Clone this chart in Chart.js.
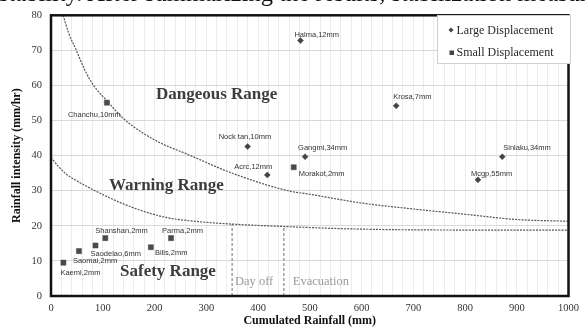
<!DOCTYPE html>
<html>
<head>
<meta charset="utf-8">
<script src="https://cdn.jsdelivr.net/npm/chart.js@4.4.0/dist/chart.umd.min.js"></script>
<style>
  html, body { margin: 0; padding: 0; background: #fff; overflow: hidden; }
  #wrap { position: relative; width: 585px; height: 327px; overflow: hidden; }
  #caption { position: absolute; left: -1px; top: -19px; font: 24.5px/24px "Liberation Serif", serif; color: #111; white-space: nowrap; }
  canvas { position: absolute; left: 0; top: 0; }
</style>
</head>
<body>
<div id="wrap">
  <canvas id="c" width="585" height="327"></canvas>
  <div id="caption">stability. After summarizing the results, stabilization measures</div>
</div>
<script>
// Typhoon events with large slope displacement: cumulated rainfall (mm), intensity (mm/hr)
const largeNames = ['Halma,12mm', 'Krosa,7mm', 'Gangmi,34mm', 'Sinlaku,34mm', 'Nock tan,10mm', 'Acrc,12mm', 'Mcgp,55mm'];
const largeRain = [482, 667, 491, 872, 380, 418, 825];
const largeIntensity = [72.8, 54.2, 39.7, 39.7, 42.6, 34.5, 33.1];

// Typhoon events with small slope displacement
const smallNames = ['Chanchu,10mm', 'Morakot,2mm', 'Shanshan,2mm', 'Parma,2mm', 'Saodelao,6mm', 'Saomai,2mm', 'Bilis,2mm', 'Kaemi,2mm'];
const smallRain = [108, 469, 105, 232, 86, 54, 193, 24];
const smallIntensity = [55.1, 36.7, 16.5, 16.5, 14.4, 12.8, 13.9, 9.5];

// Boundary between warning and dangerous range
const dangerRain = [23.5, 34, 49, 65, 80, 110, 142, 200, 270, 350, 458, 500, 600, 700, 800, 900, 1000];
const dangerIntensity = [80, 75, 70, 64.5, 60.5, 55.3, 50.3, 44.5, 40, 35, 30, 29, 26.5, 24.8, 23.3, 21.8, 21.3];

// Boundary between safety and warning range
const warningRain = [0, 17, 30, 56, 113, 158, 222, 285, 349, 451, 586, 800, 1000];
const warningIntensity = [39.5, 36.5, 34.7, 32.3, 28, 25.2, 22.4, 21.2, 20.5, 19.8, 19.1, 18.8, 18.8];

// Action thresholds on cumulated rainfall and where they meet the warning boundary
const phaseNames = ['Day off', 'Evacuation'];
const phaseRain = [350, 450];
const phaseTop = [20.5, 19.8];

// Tick values
const xTicks = [0, 100, 200, 300, 400, 500, 600, 700, 800, 900, 1000];
const yTicks = [0, 10, 20, 30, 40, 50, 60, 70, 80];

// Region captions (data coordinates)
const rangeNames = ['Dangeous Range', 'Warning Range', 'Safety Range'];
const rangeRain = [320, 223, 226];
const rangeIntensity = [57.3, 31.5, 6.9];

// Label placement around each marker: [dx to text start, dy to text middle] in px
const largeLabelShift = [[-6, -6], [-3, -9], [-7, -9], [1, -9], [-29, -10], [-33, -8], [-7, -6]];
const smallLabelShift = [[-39, 12], [5, 7], [-10, -7], [-9, -7], [-5, 8], [-6, 10], [4, 6], [-3, 10]];

const toPts = (xs, ys) => xs.map((x, i) => ({ x: x, y: ys[i] }));
const SERIF = '"Liberation Serif", "Times New Roman", serif';
const SANS = '"Liberation Sans", Arial, sans-serif';

const curveStyle = {
  showLine: true, pointRadius: 0, borderColor: '#555', borderWidth: 1.2,
  borderDash: [2, 1.2], cubicInterpolationMode: 'monotone', fill: false
};

const datasets = [
  Object.assign({ label: 'danger', data: toPts(dangerRain, dangerIntensity) }, curveStyle),
  Object.assign({ label: 'warning', data: toPts(warningRain, warningIntensity) }, curveStyle),
];
phaseRain.forEach((r, i) => {
  datasets.push({
    label: phaseNames[i], data: [{ x: r, y: 0 }, { x: r, y: phaseTop[i] }],
    showLine: true, pointRadius: 0, borderColor: '#888', borderWidth: 1.2, borderDash: [3, 2]
  });
});
datasets.push({
  label: 'Large Displacement', data: toPts(largeRain, largeIntensity),
  pointStyle: 'rectRot', pointRadius: 3, backgroundColor: '#444', borderColor: '#444', borderWidth: 0.5
});
datasets.push({
  label: 'Small Displacement', data: toPts(smallRain, smallIntensity),
  pointStyle: 'rect', pointRadius: 3.6, backgroundColor: '#4a4a4a', borderColor: '#4a4a4a', borderWidth: 0.5
});

const decorations = {
  id: 'decorations',
  afterDatasetsDraw(chart) {
    const { ctx, chartArea: a, scales: { x, y } } = chart;
    ctx.save();

    // region captions
    ctx.textAlign = 'center';
    ctx.textBaseline = 'middle';
    ctx.fillStyle = '#3d3d3d';
    ctx.font = 'bold 17px ' + SERIF;
    rangeNames.forEach((t, i) => ctx.fillText(t, x.getPixelForValue(rangeRain[i]), y.getPixelForValue(rangeIntensity[i])));

    ctx.fillStyle = '#9a9a9a';
    ctx.font = '12.5px ' + SERIF;
    phaseNames.forEach((t, i) => {
      const cx = x.getPixelForValue(phaseRain[i]) + (i === 0 ? 22 : 37);
      ctx.fillText(t, cx, y.getPixelForValue(4));
    });

    // marker labels
    ctx.fillStyle = '#333';
    ctx.font = '7.5px ' + SANS;
    ctx.textAlign = 'left';
    const lab = (names, xs, ys, sh) => names.forEach((n, i) => {
      ctx.fillText(n, x.getPixelForValue(xs[i]) + sh[i][0], y.getPixelForValue(ys[i]) + sh[i][1]);
    });
    lab(largeNames, largeRain, largeIntensity, largeLabelShift);
    lab(smallNames, smallRain, smallIntensity, smallLabelShift);

    // plot frame
    ctx.strokeStyle = '#111';
    ctx.lineWidth = 2.5;
    ctx.strokeRect(a.left, a.top, a.right - a.left, a.bottom - a.top);

    // legend
    const lx = 437, ly = 15, lw = 133, lh = 48;
    ctx.fillStyle = '#fff';
    ctx.fillRect(lx, ly, lw, lh);
    ctx.strokeStyle = '#cfcfcf';
    ctx.lineWidth = 1;
    ctx.strokeRect(lx + 0.5, ly + 0.5, lw, lh);
    ctx.fillStyle = '#444';
    ctx.beginPath();
    ctx.moveTo(451, 27.5); ctx.lineTo(453.5, 30); ctx.lineTo(451, 32.5); ctx.lineTo(448.5, 30); ctx.closePath();
    ctx.fill();
    ctx.fillRect(449.5, 50.5, 4.5, 4.5);
    ctx.fillStyle = '#2a2a2a';
    ctx.font = '12px ' + SERIF;
    ctx.textBaseline = 'middle';
    ctx.fillText('Large Displacement', 456.5, 30.5);
    ctx.fillText('Small Displacement', 456.5, 53);

    // axis titles
    ctx.fillStyle = '#111';
    ctx.font = 'bold 12px ' + SERIF;
    ctx.textAlign = 'center';
    ctx.fillText('Cumulated Rainfall (mm)', (a.left + a.right) / 2, 321);
    ctx.translate(17, (a.top + a.bottom) / 2);
    ctx.rotate(-Math.PI / 2);
    ctx.fillText('Rainfall intensity (mm/hr)', 0, 0);
    ctx.restore();
  }
};

new Chart(document.getElementById('c'), {
  type: 'scatter',
  data: { datasets: datasets },
  options: {
    responsive: false,
    animation: false,
    layout: { padding: { top: 13, right: 11, left: 0, bottom: 0 } },
    plugins: { legend: { display: false }, tooltip: { enabled: false } },
    scales: {
      x: {
        type: 'linear', min: 0, max: 1000,
        border: { display: false },
        grid: { color: '#ececec', lineWidth: 1, drawTicks: false },
        afterFit: s => { s.height = 31; },
        afterBuildTicks: s => {
          // minor grid every 20 mm; labels only on the hundreds
          const t = [];
          for (let v = 0; v <= 1000; v += 20) t.push({ value: v });
          s.ticks = t;
        },
        ticks: {
          autoSkip: false, maxRotation: 0, padding: 6, color: '#333',
          font: { family: SERIF, size: 10.5 },
          callback: v => xTicks.includes(v) ? String(v) : ''
        }
      },
      y: {
        min: 0, max: 80,
        border: { display: false },
        grid: { color: '#d9d9d9', lineWidth: 1, drawTicks: false },
        afterFit: s => { s.width = 51; },
        afterBuildTicks: s => { s.ticks = yTicks.map(v => ({ value: v })); },
        ticks: { padding: 9, color: '#333', font: { family: SERIF, size: 10.5 } }
      }
    }
  },
  plugins: [decorations]
});
</script>
</body>
</html>
